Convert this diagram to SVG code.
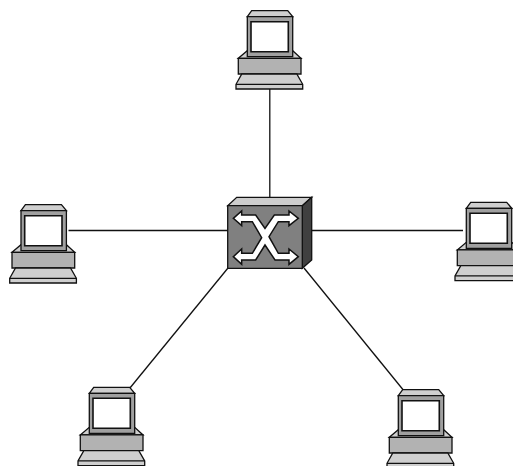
<svg xmlns="http://www.w3.org/2000/svg" width="513" height="466" viewBox="0 0 513 466">
<style>
.o{stroke:#111;stroke-width:1.3;stroke-linejoin:miter}
.l{fill:#cfcfcf}.m{fill:#a0a0a0}.b{fill:#b2b2b2}
#connectors line{stroke:#111;stroke-width:1.3}
</style>
<defs>
<g id="pc">
<path class="o l" d="M-9 41.600L0 34H45.400L53.700 41.600Z"/>
<path class="o b" d="M-9 41.600H53.700V57.300H-9Z"/>
<path class="o l" d="M-5.500 57.300H49.500L55.400 67.600V72.300H-11.300V67.600Z"/>
<path class="o l" d="M-11.300 67.600H55.400"/>
<path class="o l" d="M0 0L4.400 -6H40.400L45.400 0Z"/>
<path class="o m" d="M0 0H45.400V40H0Z"/>
<path d="M3.700 5H41V35H3.700Z" fill="#fff" stroke="#111" stroke-width="1.600"/>
</g>
</defs>
<g id="connectors">
<line x1="269.800" y1="89" x2="269.800" y2="206"/>
<line x1="68.500" y1="230.500" x2="228" y2="230.500"/>
<line x1="302" y1="230.500" x2="463" y2="230.500"/>
<line x1="228" y1="268" x2="128.300" y2="390"/>
<line x1="304" y1="268" x2="403.300" y2="390"/>
</g>
<g id="pc-top"><use href="#pc" x="247.300" y="16.700"/></g>
<g id="pc-left"><use href="#pc" x="21" y="210.700"/></g>
<g id="pc-right"><use href="#pc" x="466.300" y="208.300"/></g>
<g id="pc-bottom-left"><use href="#pc" x="89.300" y="393.300"/></g>
<g id="pc-bottom-right"><use href="#pc" x="398.300" y="395.700"/></g>
<g id="switch">
<path class="o" fill="#cdcdcd" d="M227.700 205.700L236.700 197.300H311.700L302.300 205.700Z"/>
<path class="o" fill="#404040" d="M302.300 205.700L311.700 197.300V260L302.300 268.300Z"/>
<path class="o" fill="#808080" d="M227.700 205.700H302.300V268.300H227.700Z"/>
<path transform="translate(215,185) scale(0.33333)" fill="#fff" stroke="#111" stroke-width="4.500" d="M55 100L80 78V90H122L150 130L178 90H222V78L250 100L222 122V110H190L162 155L190 205H222V192L250 215L222 238V225H180L150 180L122 225H80V238L55 215L80 192V205H112L140 158L112 110H80V122Z"/>
</g>
</svg>
